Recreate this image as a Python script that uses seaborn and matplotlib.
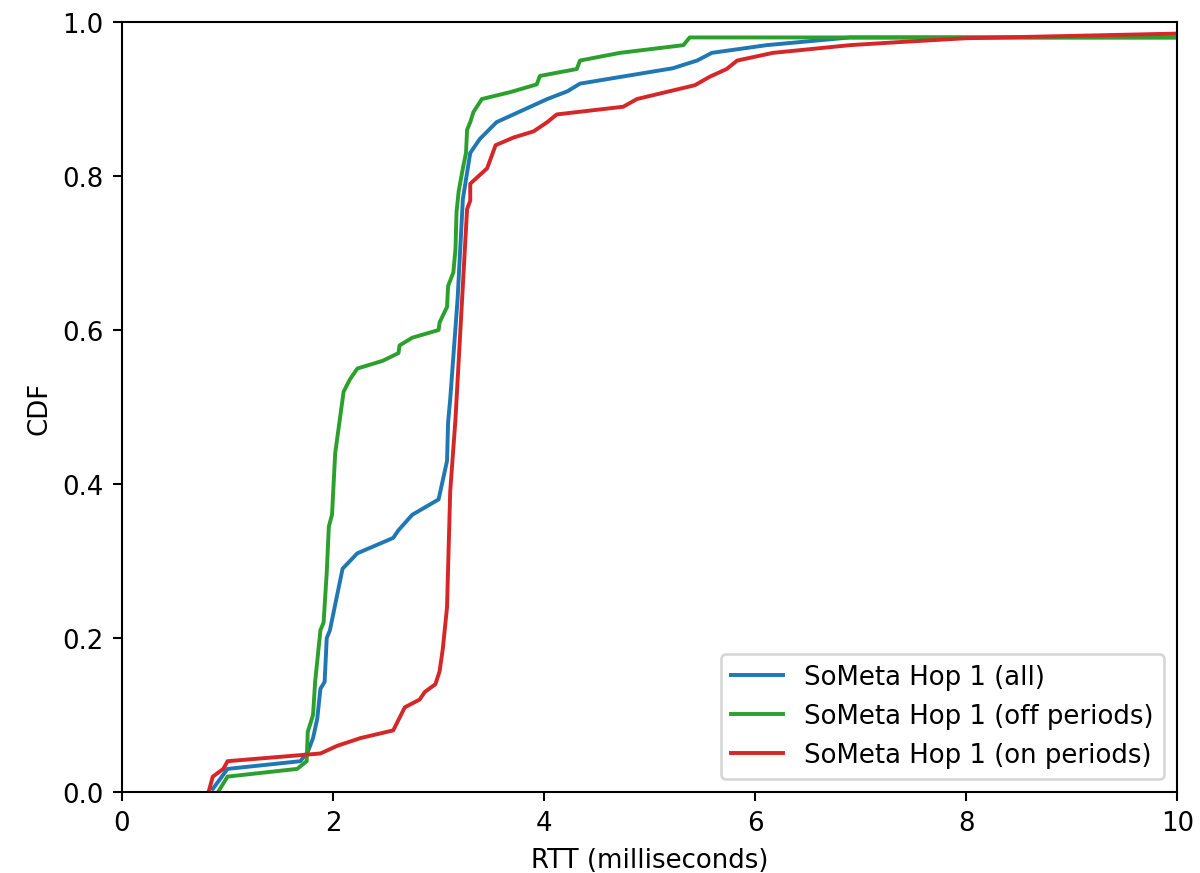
import numpy as np
import pandas as pd
import matplotlib
matplotlib.use("Agg")
import matplotlib.pyplot as plt
import seaborn as sns

# RTT (ms) / CDF points
all_x = [0.86, 1.0, 1.69, 1.76, 1.81, 1.85, 1.88, 1.92, 1.94, 1.97, 2.09, 2.23, 2.57, 2.62,
         2.75, 3.0, 3.08, 3.09, 3.11, 3.18, 3.23, 3.30, 3.39, 3.55, 3.71, 3.87, 4.03, 4.22,
         4.34, 5.22, 5.45, 5.59, 6.11, 6.9, 8.0, 10.0]
all_y = [0.004, 0.03, 0.04, 0.052, 0.07, 0.095, 0.134, 0.143, 0.2, 0.21, 0.29, 0.31, 0.33, 0.34,
         0.36, 0.38, 0.43, 0.48, 0.51, 0.64, 0.77, 0.83, 0.848, 0.87, 0.88, 0.89, 0.90, 0.91,
         0.92, 0.94, 0.95, 0.96, 0.97, 0.98, 0.98, 0.98]

off_x = [0.91, 1.0, 1.66, 1.75, 1.76, 1.81, 1.83, 1.88, 1.91, 1.94, 1.96, 1.99, 2.02, 2.07,
         2.1, 2.16, 2.23, 2.47, 2.62, 2.63, 2.75, 3.0, 3.01, 3.08, 3.09, 3.14, 3.16, 3.17,
         3.19, 3.23, 3.26, 3.27, 3.30, 3.33, 3.41, 3.68, 3.93, 3.96, 4.31, 4.34, 4.72, 5.32,
         5.38, 8.0, 10.0]
off_y = [0.0, 0.02, 0.03, 0.04, 0.078, 0.1, 0.143, 0.21, 0.22, 0.285, 0.345, 0.36, 0.44, 0.49,
         0.52, 0.536, 0.55, 0.56, 0.57, 0.58, 0.59, 0.60, 0.61, 0.63, 0.657, 0.675, 0.705, 0.753,
         0.78, 0.81, 0.83, 0.86, 0.87, 0.883, 0.90, 0.909, 0.919, 0.93, 0.939, 0.95, 0.96, 0.97,
         0.98, 0.98, 0.98]

on_x = [0.82, 0.86, 0.96, 1.0, 1.88, 2.04, 2.26, 2.57, 2.68, 2.82, 2.87, 2.97, 3.01, 3.04,
        3.08, 3.11, 3.16, 3.27, 3.30, 3.30, 3.46, 3.54, 3.71, 3.9, 4.03, 4.12, 4.75, 4.88,
        5.43, 5.57, 5.73, 5.83, 6.17, 6.9, 7.37, 8.0, 10.0]
on_y = [0.0, 0.02, 0.03, 0.04, 0.05, 0.06, 0.07, 0.08, 0.11, 0.12, 0.13, 0.14, 0.157, 0.186,
        0.24, 0.39, 0.484, 0.757, 0.768, 0.79, 0.81, 0.84, 0.85, 0.858, 0.87, 0.88, 0.89, 0.90,
        0.918, 0.929, 0.939, 0.95, 0.96, 0.97, 0.974, 0.979, 0.985]

labels = ["SoMeta Hop 1 (all)", "SoMeta Hop 1 (off periods)", "SoMeta Hop 1 (on periods)"]
colors = ["#1f77b4", "#2ca02c", "#d62728"]

frames = []
for lab, xs, ys in zip(labels, [all_x, off_x, on_x], [all_y, off_y, on_y]):
    frames.append(pd.DataFrame({"rtt": xs, "cdf": ys, "series": lab}))
df = pd.concat(frames, ignore_index=True)

# plain matplotlib look: black text, full box, no grid
plt.rcParams["font.family"] = ["DejaVu Sans"]

fig = plt.figure(figsize=(6.4, 4.661), dpi=187.5)
ax = fig.add_axes([0.1017, 0.0927, 0.981 - 0.1017, 0.9737 - 0.0927])

sns.lineplot(data=df, x="rtt", y="cdf", hue="series", palette=dict(zip(labels, colors)),
             estimator=None, sort=False, units="series", linewidth=1.5, ax=ax)

ax.set_xlim(0, 10)
ax.set_ylim(0, 1)
ax.set_xticks([0, 2, 4, 6, 8, 10])
ax.set_yticks([0.0, 0.2, 0.4, 0.6, 0.8, 1.0])
ax.set_yticklabels(["0.0", "0.2", "0.4", "0.6", "0.8", "1.0"])
ax.set_xlabel("RTT (milliseconds)")
ax.set_ylabel("CDF")

handles, labs = ax.get_legend_handles_labels()
ax.legend(handles, labs, loc="lower right")

fig.savefig("out.png", dpi=187.5)
